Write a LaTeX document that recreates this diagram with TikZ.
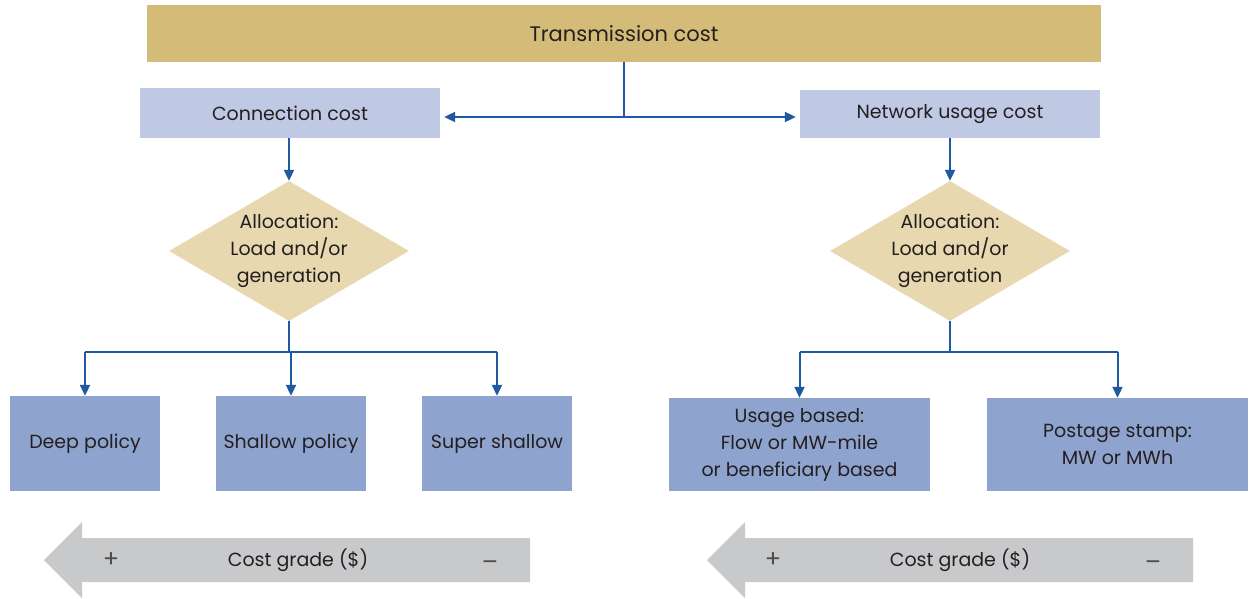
\documentclass[tikz,border=0pt]{standalone}
\usepackage{fontspec}
\setmainfont{Poppins}
\usetikzlibrary{shapes.geometric,arrows.meta}
\definecolor{titlefill}{HTML}{D4BC78}
\definecolor{lightbox}{HTML}{C0C9E4}
\definecolor{darkbox}{HTML}{8FA3CF}
\definecolor{diafill}{HTML}{E8D8B0}
\definecolor{linecol}{HTML}{1F5AA0}
\definecolor{graycol}{HTML}{C8C9CB}
\definecolor{txt}{HTML}{231F20}
\tikzset{
  box/.style={rectangle, inner sep=0pt, text=txt, align=center, font=\fontsize{19}{27}\selectfont},
  dia/.style={diamond, fill=diafill, inner sep=0pt, minimum width=240pt, minimum height=140pt},
  conn/.style={draw=linecol, line width=2pt},
  arr/.style={conn, -{Triangle[length=11pt,width=10pt]}},
  lbl/.style={text=txt, font=\fontsize{19}{27}\selectfont, align=center, inner sep=0pt},
  sign/.style={text=txt!80, font=\fontsize{24}{27}\selectfont, inner sep=0pt},
}
\begin{document}
\begin{tikzpicture}[x=1pt,y=-1pt]
\useasboundingbox (0,0) rectangle (1250,598);
% top
\node[box, fill=titlefill, minimum width=954pt, minimum height=57pt, font=\fontsize{21}{27}\selectfont] (title) at (624,33.5) {Transmission cost};
\node[box, fill=lightbox, minimum width=300pt, minimum height=50pt] (cc) at (290,113) {Connection cost};
\node[box, fill=lightbox, minimum width=300pt, minimum height=48pt] (nu) at (950,114) {Network usage cost};
\coordinate (j1) at (title.south |- 0,117);
\draw[conn] (title.south) -- (j1);
\draw[arr, shorten >=4pt] (j1) -- (cc.east |- j1);
\draw[arr, shorten >=4pt] (j1) -- (nu.west |- j1);
% diamonds
\node[dia] (d1) at (289,251) {};
\node[lbl] at (d1) {Allocation:\\Load and/or\\generation};
\node[dia] (d2) at (950,251) {};
\node[lbl] at (d2) {Allocation:\\Load and/or\\generation};
\draw[arr] (cc.south -| d1.north) -- (d1.north);
\draw[arr] (nu.south -| d2.north) -- (d2.north);
% left bottom boxes
\node[box, fill=darkbox, minimum width=150pt, minimum height=95pt] (deep) at (85,443.5) {Deep policy};
\node[box, fill=darkbox, minimum width=150pt, minimum height=95pt] (shallow) at (291,443.5) {Shallow policy};
\node[box, fill=darkbox, minimum width=150pt, minimum height=95pt] (super) at (497,443.5) {Super shallow};
\coordinate (j2) at (d1.south |- 0,352);
\draw[conn] (d1.south) -- (j2);
\draw[conn] (deep.north |- j2) -- (super.north |- j2);
\draw[arr] (deep.north |- j2) -- (deep.north);
\draw[arr] (shallow.north |- j2) -- (shallow.north);
\draw[arr] (super.north |- j2) -- (super.north);
% right bottom boxes
\node[box, fill=darkbox, minimum width=261pt, minimum height=93pt] (usage) at (799.5,444.5) {Usage based:\\Flow or MW-mile\\or beneficiary based};
\node[box, fill=darkbox, minimum width=261pt, minimum height=93pt] (postage) at (1117.5,444.5) {Postage stamp:\\MW or MWh};
\coordinate (j3) at (d2.south |- 0,352);
\draw[conn] (d2.south) -- (j3);
\draw[conn] (usage.north |- j3) -- (postage.north |- j3);
\draw[arr] (usage.north |- j3) -- (usage.north);
\draw[arr] (postage.north |- j3) -- (postage.north);
% cost grade arrows
\fill[graycol] (44,560) -- (82,522) -- (82,538) -- (530,538) -- (530,582) -- (82,582) -- (82,598) -- cycle;
\node[sign] (p1) at (111,560) {+};
\node[lbl] (c1) at (298,560) {Cost grade (\$)};
\node[sign] (m1) at (490,566) {–};
\fill[graycol] (707,560) -- (745,522) -- (745,538) -- (1193,538) -- (1193,582) -- (745,582) -- (745,598) -- cycle;
\node[sign] (p2) at (773,560) {+};
\node[lbl] (c2) at (960,560) {Cost grade (\$)};
\node[sign] (m2) at (1153,566) {–};
\end{tikzpicture}
\end{document}
